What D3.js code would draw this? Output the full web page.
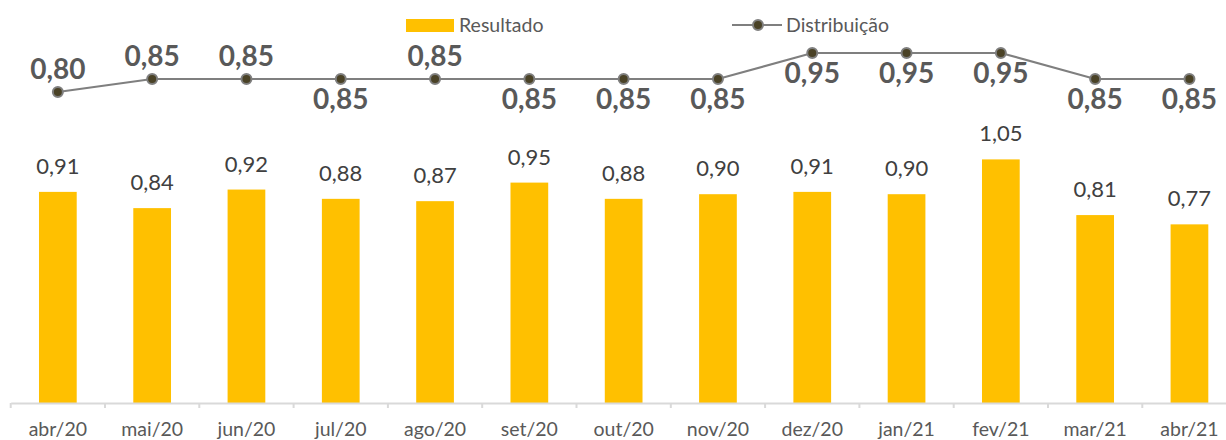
<!DOCTYPE html>
<html lang="pt">
<head>
	<meta charset="utf-8">
	<title>Resultado x Distribuição</title>
	<script src="https://d3js.org/d3.v7.min.js"></script>
	<style>
		html, body { margin: 0; padding: 0; background: #fff; }
		svg { display: block; font-family: Lato, "Open Sans", sans-serif; }
	</style>
</head>
<body>
	<div id="chart"></div>
	<script>
		// data
		const months = ["abr/20", "mai/20", "jun/20", "jul/20", "ago/20", "set/20", "out/20",
			"nov/20", "dez/20", "jan/21", "fev/21", "mar/21", "abr/21"];
		const resultado = [0.91, 0.84, 0.92, 0.88, 0.87, 0.95, 0.88, 0.90, 0.91, 0.90, 1.05, 0.81, 0.77];
		const distribuicao = [0.80, 0.85, 0.85, 0.85, 0.85, 0.85, 0.85, 0.85, 0.95, 0.95, 0.95, 0.85, 0.85];
		// where each distribution label sits relative to its point
		const distLabelSide = ["above", "above", "above", "below", "above", "below", "below",
			"below", "below", "below", "below", "below", "below"];

		let width = 1226;
		let height = 440;
		let baseY = 403;

		let fmt = v => d3.format(".2f")(v).replace(".", ",");

		let svg = d3.select("#chart")
					.append("svg")
					.attr("width", width)
					.attr("height", height);

		// X: one band per month, the chart runs a bit past the right edge
		let x = d3.scaleBand()
					.domain(months)
					.range([10.7, 1236.6])
					.padding(0);
		let barW = x.bandwidth() * 0.4;

		// Y for the bars (primary) and the line (secondary)
		let y = d3.scaleLinear()
					.domain([0, 1.2])
					.range([baseY, baseY - 1.2 * 232]);
		let y2 = d3.scaleLinear()
					.domain([0.85, 0.95])
					.range([79, 53]);

		// bars
		svg.selectAll("rect.bar")
			.data(resultado)
			.enter()
			.append("rect")
			.attr("class", "bar")
			.attr("x", (d, i) => x(months[i]) + (x.bandwidth() - barW) / 2)
			.attr("y", d => y(d))
			.attr("width", barW)
			.attr("height", d => baseY - y(d))
			.attr("fill", "#ffc000");

		// bar labels
		svg.selectAll("text.barlbl")
			.data(resultado)
			.enter()
			.append("text")
			.attr("class", "barlbl")
			.attr("x", (d, i) => x(months[i]) + x.bandwidth() / 2)
			.attr("y", d => y(d) - 18)
			.attr("text-anchor", "middle")
			.attr("font-size", 22)
			.attr("fill", "#404040")
			.text(d => fmt(d));

		// x axis: base line, ticks at band edges, labels centred
		let axis = svg.append("g")
			.attr("transform", `translate(0,${baseY})`)
			.call(d3.axisBottom(x).tickSize(0).tickPadding(19));
		axis.select(".domain").attr("stroke", "#d9d9d9").attr("stroke-width", 2);
		axis.selectAll("text")
			.attr("font-family", "Lato, 'Open Sans', sans-serif")
			.attr("font-size", 19.5)
			.attr("fill", "#595959");
		axis.selectAll("line.edge")
			.data(months)
			.enter()
			.append("line")
			.attr("class", "edge")
			.attr("x1", d => x(d))
			.attr("x2", d => x(d))
			.attr("y1", 0)
			.attr("y2", 5)
			.attr("stroke", "#d9d9d9")
			.attr("stroke-width", 2);

		// distribution line
		svg.append("path")
			.datum(distribuicao)
			.attr("fill", "none")
			.attr("stroke", "#7f7f7f")
			.attr("stroke-width", 2.2)
			.attr("d", d3.line()
				.x((d, i) => x(months[i]) + x.bandwidth() / 2)
				.y(d => y2(d)));

		svg.selectAll("circle.dot")
			.data(distribuicao)
			.enter()
			.append("circle")
			.attr("class", "dot")
			.attr("cx", (d, i) => x(months[i]) + x.bandwidth() / 2)
			.attr("cy", d => y2(d))
			.attr("r", 5)
			.attr("fill", "#4a4226")
			.attr("stroke", "#7f7f7f")
			.attr("stroke-width", 2);

		svg.selectAll("text.distlbl")
			.data(distribuicao)
			.enter()
			.append("text")
			.attr("class", "distlbl")
			.attr("x", (d, i) => x(months[i]) + x.bandwidth() / 2)
			.attr("y", (d, i) => y2(d) + (distLabelSide[i] === "above" ? -13 : 30))
			.attr("text-anchor", "middle")
			.attr("font-size", 28)
			.attr("font-weight", "bold")
			.attr("fill", "#595959")
			.text(d => fmt(d));

		// legend
		let legend = svg.append("g");
		legend.append("rect")
			.attr("x", 406).attr("y", 19)
			.attr("width", 48).attr("height", 13)
			.attr("fill", "#ffc000");
		legend.append("text")
			.attr("x", 459).attr("y", 32)
			.attr("font-size", 19.5)
			.attr("fill", "#595959")
			.text("Resultado");
		legend.append("line")
			.attr("x1", 732).attr("x2", 782)
			.attr("y1", 25).attr("y2", 25)
			.attr("stroke", "#7f7f7f")
			.attr("stroke-width", 2.2);
		legend.append("circle")
			.attr("cx", 758).attr("cy", 25).attr("r", 5)
			.attr("fill", "#4a4226")
			.attr("stroke", "#7f7f7f")
			.attr("stroke-width", 2);
		legend.append("text")
			.attr("x", 786).attr("y", 32)
			.attr("font-size", 19.5)
			.attr("fill", "#595959")
			.text("Distribuição");
	</script>
</body>
</html>
